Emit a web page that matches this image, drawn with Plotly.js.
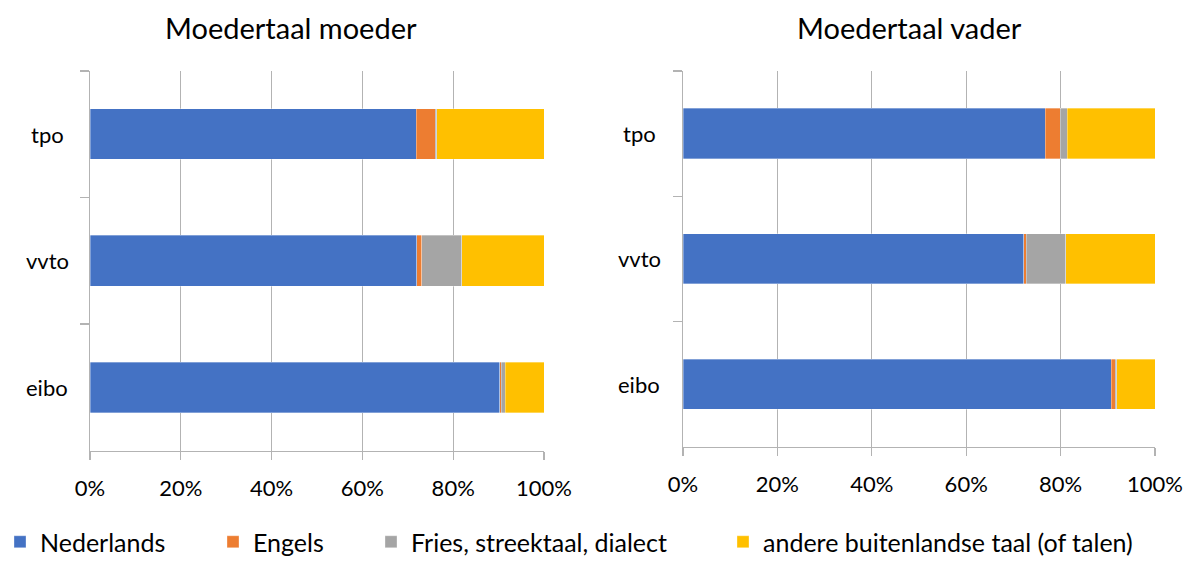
<!DOCTYPE html>
<html>
<head>
<meta charset="utf-8">
<script src="https://cdn.plot.ly/plotly-3.0.1.min.js"></script>
<style>html,body{margin:0;padding:0;background:#fff;}#chart{width:1187px;height:565px;}</style>
</head>
<body>
<div id="chart"></div>
<script>
// Data (percentages)
const categories = ['tpo', 'vvto', 'eibo'];
const seriesNames = ['Nederlands', 'Engels', 'Fries, streektaal, dialect', 'andere buitenlandse taal (of talen)'];
const seriesColors = ['#4472C4', '#ED7D31', '#A5A5A5', '#FFC000'];
const moederNederlands = [71.9, 72.0, 90.3];
const moederEngels = [4.2, 1.1, 0.3];
const moederFries = [0.3, 8.8, 0.9];
const moederAndere = [23.6, 18.1, 8.5];
const vaderNederlands = [76.7, 72.2, 90.7];
const vaderEngels = [3.2, 0.5, 0.9];
const vaderFries = [1.5, 8.4, 0.3];
const vaderAndere = [18.6, 18.9, 8.1];
const xTickVals = [0, 20, 40, 60, 80, 100];
const xTickText = ['0%', '20%', '40%', '60%', '80%', '100%'];
const titles = ['Moedertaal moeder', 'Moedertaal vader'];

const moeder = [moederNederlands, moederEngels, moederFries, moederAndere];
const vader = [vaderNederlands, vaderEngels, vaderFries, vaderAndere];
const legendIds = ['legend', 'legend2', 'legend3', 'legend4'];

const traces = [];
moeder.forEach((vals, i) => {
  traces.push({
    type: 'bar', orientation: 'h', x: vals, y: categories, name: seriesNames[i],
    marker: {color: seriesColors[i], line: {color: 'rgba(255,255,255,0.55)', width: 0.6}},
    xaxis: 'x', yaxis: 'y', showlegend: true, legend: legendIds[i], hoverinfo: 'x+name'
  });
});
vader.forEach((vals, i) => {
  traces.push({
    type: 'bar', orientation: 'h', x: vals, y: categories, name: seriesNames[i],
    marker: {color: seriesColors[i], line: {color: 'rgba(255,255,255,0.55)', width: 0.6}},
    xaxis: 'x2', yaxis: 'y2', showlegend: false, hoverinfo: 'x+name'
  });
});

const FONT = 'Lato, "Open Sans", sans-serif';
const W = 1187, H = 565;
function xa(d, anchor) {
  return {
    domain: d, anchor: anchor, range: [0, 100], tickvals: xTickVals, ticktext: xTickText,
    showgrid: true, gridcolor: '#b3b3b3', gridwidth: 1,
    showline: true, linecolor: '#b3b3b3', linewidth: 1.3,
    ticks: 'outside', ticklen: 8, tickcolor: '#b3b3b3', tickwidth: 1.3,
    ticklabelstandoff: 10,
    tickfont: {family: FONT, size: 22, color: '#000'}, zeroline: false, fixedrange: true
  };
}
function ya(d, anchor) {
  return {
    domain: d, anchor: anchor, type: 'category', autorange: 'reversed',
    tickson: 'boundaries', ticks: 'outside', ticklen: 9, tickcolor: '#b3b3b3', tickwidth: 1.3,
    showline: true, linecolor: '#b3b3b3', linewidth: 1.3, showgrid: false,
    showticklabels: false, fixedrange: true
  };
}

const legendX = [0, 213, 371, 723];
const legendFont = {family: FONT, size: 25, color: '#000'};

const layout = {
  width: W, height: H,
  margin: {l: 0, r: 0, t: 0, b: 0},
  paper_bgcolor: '#fff', plot_bgcolor: '#fff',
  barmode: 'stack', bargap: 0.6,
  font: {family: FONT, color: '#000'},
  xaxis: xa([90 / W, 544 / W], 'y'),
  yaxis: ya([1 - 458 / H, 1 - 72 / H], 'x'),
  xaxis2: xa([683 / W, 1155 / W], 'y2'),
  yaxis2: ya([1 - 454 / H, 1 - 72 / H], 'x2'),
  showlegend: true,
  annotations: [
    {text: titles[0], x: 291 / W, y: 1 - 28 / H, xref: 'paper', yref: 'paper',
     xanchor: 'center', yanchor: 'middle', showarrow: false, font: {family: FONT, size: 29, color: '#000'}},
    {text: titles[1], x: 909 / W, y: 1 - 28 / H, xref: 'paper', yref: 'paper',
     xanchor: 'center', yanchor: 'middle', showarrow: false, font: {family: FONT, size: 29, color: '#000'}}
  ]
};
legendIds.forEach((id, i) => {
  layout[id] = {
    orientation: 'h', x: legendX[i] / W, xanchor: 'left', y: 1 - 551 / H, yanchor: 'middle',
    font: legendFont, bgcolor: 'rgba(0,0,0,0)', borderwidth: 0
  };
});
// category labels, centred like the original, placed through the category axes
categories.forEach(c => {
  layout.annotations.push({text: c, x: 47 / W, xref: 'paper', y: c, yref: 'y', xanchor: 'center',
    yanchor: 'middle', showarrow: false, font: {family: FONT, size: 22, color: '#000'}});
  layout.annotations.push({text: c, x: 639 / W, xref: 'paper', y: c, yref: 'y2', xanchor: 'center',
    yanchor: 'middle', showarrow: false, font: {family: FONT, size: 22, color: '#000'}});
});

Plotly.newPlot('chart', traces, layout, {displayModeBar: false, staticPlot: true});
</script>
</body>
</html>
